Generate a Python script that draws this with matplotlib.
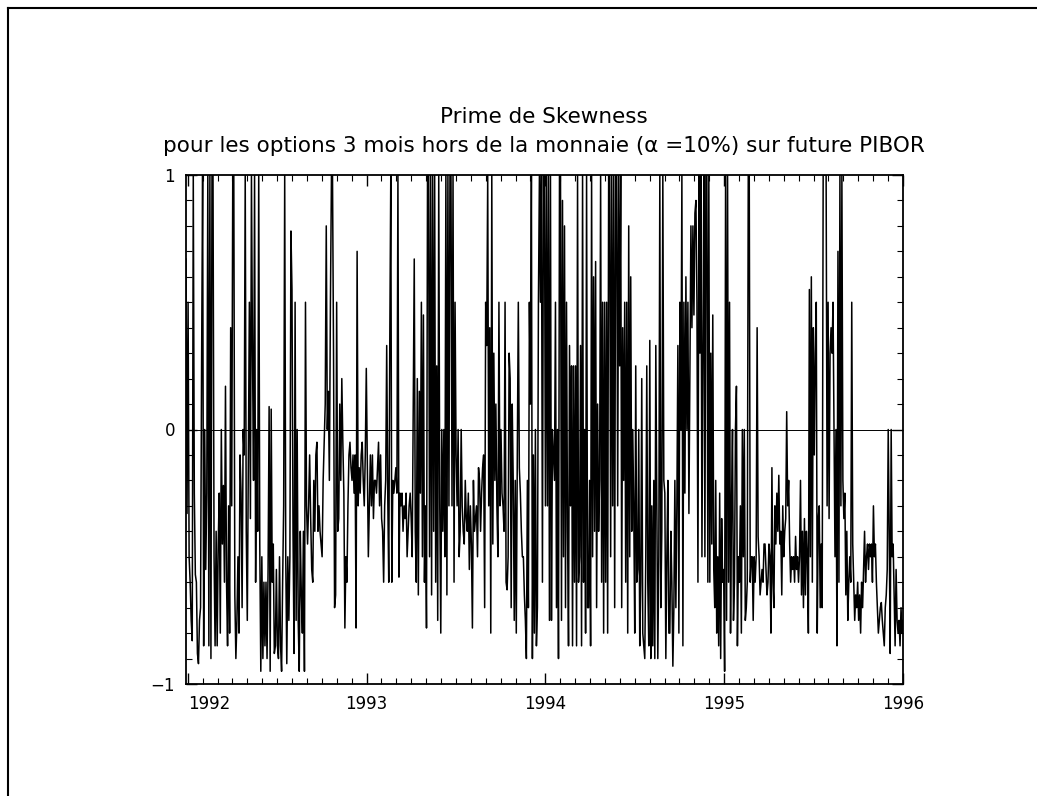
import numpy as np
import matplotlib
matplotlib.use("Agg")
import matplotlib.pyplot as plt
from matplotlib.lines import Line2D

# skewness premium in four consecutive date blocks
# (decimal years: start, end)
span_a = (1991.99, 1992.85)
skew_a = [0.67, -0.33, 0.5, -0.5, -0.6, -0.75, -0.83, 1, -0.25, -0.57, -0.6, -0.88, -0.92, -0.75, -0.7, 0.25,
          1, -0.85, 0.0, -0.55, -0.25, 1, -0.85, 1, -0.9, 1, 1, -0.5, -0.85, -0.4, -0.85, -0.45, -0.25, -0.8,
          0.0, -0.45, -0.22, -0.6, 0.17, -0.6, -0.85, -0.3, -0.8, 0.4, -0.3, 1, 1, -0.65, -0.9, -0.75, -0.5,
          -0.8, -0.1, -0.25, -0.7, 0.0, -0.1, 1, -0.4, -0.75, -0.1, 0.5, -0.35, 1, 0.3, -0.2, 1, -0.6, 0.0, -0.4,
          1, -0.45, -0.95, -0.5, -0.9, -0.6, -0.85, -0.6, -0.9, -0.55, 0.09, -0.95, 0.08, -0.6, -0.45, -0.88,
          -0.85, -0.55, -0.85, -0.9, -0.5, -0.85, -0.95, -0.6, -0.3, 1, -0.5, -0.92, -0.5, -0.75, -0.5, 0.78,
          0.55, -0.4, -0.88, 0.5, -0.75, 0.0, -0.75, -0.95, -0.4, -0.65, -0.8, -0.4, -0.95, 0.5, -0.3, -0.45,
          -0.3, -0.1, -0.35, -0.55, -0.6, -0.2, -0.4, -0.1, -0.05, -0.4, -0.3, -0.4, -0.45, -0.5, -0.2, -0.05,
          0.1, 0.8, 0.0, 0.15, -0.2, 0.5, 1, 1, 0.3, -0.7, -0.65, 0.5, -0.4, -0.35]

span_b = (1992.85, 1993.86)
skew_b = [0.1, -0.2, 0.2, -0.05, -0.25, -0.78, -0.5, -0.6, -0.3, -0.1, -0.05, -0.15, -0.2, -0.1, -0.25, -0.1,
          -0.78, 0.7, -0.3, -0.15, -0.25, -0.1, -0.05, -0.2, -0.3, -0.1, 0.24, -0.15, -0.5, -0.3, -0.1, -0.3,
          -0.1, -0.35, -0.2, -0.2, -0.25, -0.15, -0.05, -0.3, -0.1, -0.35, -0.4, -0.6, -0.3, -0.2, 0.33, -0.25,
          -0.6, 0.33, 1, -0.6, -0.2, -0.25, -0.2, -0.15, -0.25, 1, -0.58, -0.25, -0.3, -0.25, -0.4, -0.3, -0.35,
          -0.25, -0.5, -0.4, -0.3, -0.25, -0.35, -0.5, 0.1, 0.67, -0.4, -0.6, 0.2, -0.65, 0.15, -0.25, 0.5, -0.5,
          0.45, -0.6, -0.3, -0.78, 1, 1, -0.5, 1, -0.65, 1, -0.4, 1, -0.6, 0.25, -0.75, 1, -0.3, -0.8, 0.0, -0.4,
          0.0, -0.5, 1, -0.65, 1, -0.3, 1, 1, -0.3, 1, -0.6, 0.5, -0.1, -0.3, 0.0, -0.5, -0.4, 0.0, -0.3, -0.4,
          -0.45, -0.2, -0.35, -0.4, -0.25, -0.55, -0.3, -0.45, -0.78, -0.2, -0.4, -0.35, -0.3, -0.5, -0.15, -0.2,
          -0.4, -0.25, -0.15, -0.1, -0.7, 0.5, 0.33, 1, -0.3, 0.4, -0.8, 1, -0.45, 0.3, -0.2, 0.1, -0.3, -0.5,
          0.5, -0.3, 0.0, -0.25, -0.3, -0.4, 0.5, -0.6, -0.63, -0.5, 0.3, 0.2, -0.7, 0.1, -0.2, -0.75, -0.2,
          -0.8, -0.1, 0.5, -0.15]

span_c = (1993.86, 1994.87)
skew_c = [-0.25, -0.4, -0.5, -0.5, -0.65, -0.75, -0.9, -0.2, -0.7, 0.5, 0.1, 1, -0.9, -0.1, -0.8, 0.0, -0.85,
          -0.7, 0.5, 1, 0.5, 1, -0.6, 1, 1, -0.3, 1, -0.3, 1, -0.75, 1, -0.75, 0.0, -0.1, -0.2, 0.5, -0.7, 0.0,
          -0.9, 1, 1, -0.75, 0.9, -0.5, 0.8, -0.7, 0.5, -0.4, -0.85, 0.33, -0.3, 0.25, -0.85, 0.25, -0.6, 0.25,
          -0.85, 1, -0.6, -0.5, 0.33, -0.85, 1, -0.6, 0.0, -0.8, 1, -0.7, -0.7, -0.2, -0.85, 1, -0.5, 0.6, -0.4,
          0.66, -0.7, 0.1, -0.4, -0.2, 1, -0.6, 0.5, -0.8, 0.5, -0.6, 0.5, -0.8, 1, 1, -0.5, 1, -0.3, 1, -0.7, 1,
          1, -0.3, 1, 0.25, 1, -0.7, 0.4, -0.2, 0.5, -0.6, 0.5, -0.8, 0.8, -0.5, 0.6, -0.4, 0.0, -0.3, -0.8,
          0.25, -0.6, -0.55, 0.0, -0.85, -0.6, 0.2, -0.8, -0.85, -0.9, -0.5, 0.25, -0.6, -0.85, 0.35, -0.9, -0.3,
          -0.85, -0.2, -0.9, 0.33, -0.3, -0.9, -0.5, 1, -0.7, -0.4, 1, -0.2, -0.25, -0.9, -0.5, -0.2, -0.8, -0.8,
          -0.4, -0.6, -0.93, -0.7, -0.2, -0.7, -0.3, 0.33, -0.8, 0.5, 0.0, 1, -0.85, 0.5, -0.25, 0.6, 0.0, 0.5,
          -0.33, 0.25, 0.8, 0.4, 0.8, 0.45, 0.85, 0.9, 0.5, -0.6, 1, 0.3]

span_d = (1994.87, 1996.0)
skew_d = [1, -0.5, 0.33, 1, -0.5, 1, 1, -0.6, 1, -0.6, 0.3, -0.45, 0.45, -0.55, -0.7, -0.2, -0.8, -0.5, -0.85,
          -0.25, -0.9, -0.35, -0.6, -0.55, -0.95, 1, -0.75, 1, -0.6, 0.5, -0.8, -0.3, 0.0, -0.75, -0.6, 0.0, 0.17,
          -0.85, -0.5, -0.6, -0.3, -0.8, 0.0, -0.5, 0.0, -0.75, -0.7, -0.6, 1, 1, -0.6, -0.5, -0.5, -0.75, -0.5,
          -0.6, -0.5, 0.4, -0.42, -0.5, -0.65, -0.6, -0.55, -0.6, -0.45, -0.45, -0.55, -0.65, -0.6, -0.45, -0.5,
          -0.8, -0.15, -0.6, -0.7, -0.3, -0.45, -0.25, -0.4, -0.18, -0.45, -0.4, -0.65, -0.3, -0.5, -0.4, -0.35,
          0.07, -0.3, -0.2, -0.45, -0.6, -0.5, -0.55, -0.5, -0.6, -0.42, -0.55, -0.5, -0.6, -0.5, -0.2, -0.65,
          -0.4, -0.7, -0.35, -0.65, -0.4, -0.5, -0.8, 0.55, -0.5, 0.6, -0.6, 0.4, -0.1, 0.3, 0.5, -0.8, -0.35,
          -0.3, -0.7, -0.45, -0.7, 1, 1, 1, 1, -0.3, 0.5, -0.35, 0.3, 0.4, 0.3, 0.5, 0.0, -0.5, 0.0, -0.85, 0.7,
          -0.6, 1, -0.3, 1, -0.2, -0.35, -0.25, -0.65, -0.4, -0.75, -0.6, -0.5, -0.6, 0.5, -0.45, -0.6, -0.75,
          -0.65, -0.7, -0.6, -0.75, -0.65, -0.8, -0.6, -0.7, -0.55, -0.4, -0.6, -0.5, -0.45, -0.55, -0.45, -0.5,
          -0.45, -0.6, -0.3, -0.5, -0.45, -0.6, -0.7, -0.8, -0.75, -0.7, -0.68, -0.75, -0.8, -0.85, -0.7, -0.65,
          -0.55, 0.0, -0.4, -0.88, 0.0, -0.5, -0.45, -0.65, -0.85, -0.55, -0.75, -0.8, -0.75, -0.85, -0.7, -0.8,
          -0.75]

years = [1992, 1993, 1994, 1995, 1996]
title1 = "Prime de Skewness"
title2 = "pour les options 3 mois hors de la monnaie (α =10%) sur future PIBOR"

# dates: each block spread evenly over its span
blocks = [(span_a, skew_a), (span_b, skew_b), (span_c, skew_c), (span_d, skew_d)]
x_parts, y_parts = [], []
for i, (span, vals) in enumerate(blocks):
    last = i == len(blocks) - 1
    x_parts.append(np.linspace(span[0], span[1], len(vals), endpoint=last))
    y_parts.append(np.array(vals))
x = np.concatenate(x_parts)
y = np.concatenate(y_parts)

plt.rcParams['font.family'] = ['DejaVu Sans']

fig = plt.figure(figsize=(10.37, 7.96), dpi=100)
ax = fig.add_axes([186 / 1037, 1 - 684 / 796, 717 / 1037, 509 / 796])

ax.plot(x, y, color='black', lw=1.1)
ax.axhline(0, color='black', lw=0.7)

ax.set_xlim(1991.99, 1996.0)
ax.set_ylim(-1, 1)

ax.set_xticks(years)
ax.set_xticklabels([str(v) for v in years])
ax.set_xticks(np.arange(1992, 1996, 1 / 12), minor=True)
ax.set_yticks([-1, 0, 1])
ax.set_yticklabels(['\u22121', '0', '1'])
ax.set_yticks(np.arange(-1, 1.01, 0.1), minor=True)

ax.tick_params(which='both', direction='in', top=True, right=True, colors='black')
ax.tick_params(which='major', length=8, width=1.0, labelsize=12, pad=8)
ax.tick_params(which='minor', length=4, width=0.8)
for lab in ax.get_xticklabels():
    if lab.get_text() == '1992':
        lab.set_horizontalalignment('left')

for sp in ax.spines.values():
    sp.set_linewidth(1.3)

fig.text(544 / 1037, 1 - 117 / 796, title1, ha='center', va='center', fontsize=15.5)
fig.text(544 / 1037, 1 - 146 / 796, title2, ha='center', va='center', fontsize=15.5)

# page frame (left and top edges)
fig.add_artist(Line2D([8 / 1037, 8 / 1037], [0, 1 - 8 / 796], transform=fig.transFigure, color='black', lw=1.5))
fig.add_artist(Line2D([8 / 1037, 1], [1 - 8 / 796, 1 - 8 / 796], transform=fig.transFigure, color='black', lw=1.5))

fig.savefig('out.png', dpi=100)
